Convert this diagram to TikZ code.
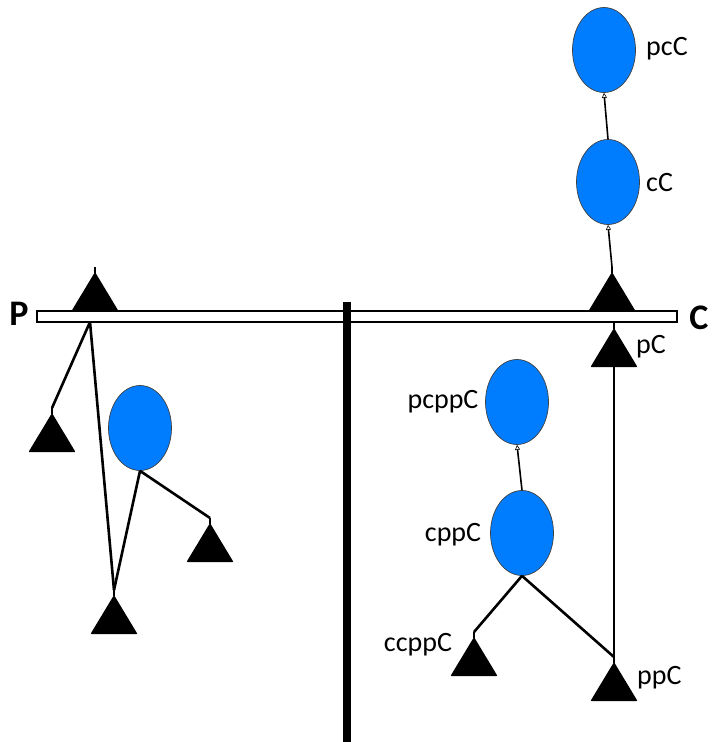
\documentclass[tikz,border=0pt]{standalone}
\usepackage{fontspec}
\setmainfont{Carlito}
\usetikzlibrary{shapes.geometric,arrows.meta}
\definecolor{bub}{RGB}{0,125,255}
\tikzset{
  x=1pt,y=-1pt,
  bubble/.style={ellipse,draw=black!75,line width=0.7pt,fill=bub,minimum width=63pt,minimum height=85pt,inner sep=0pt},
  lab/.style={font=\fontsize{28}{30}\selectfont,inner sep=0pt},
  big/.style={font=\fontsize{36}{38}\selectfont\bfseries,inner sep=0pt},
  conn/.style={line width=2.6pt},
  arr/.style={line width=1.6pt,-{Triangle[open,length=5pt,width=5pt,line width=0.6pt]}},
  tri/.pic={
    \fill[rounded corners=0.8pt] (0,0) -- (-23.5,39) -- (23.5,39) -- cycle;
    \draw[line width=2.4pt] (0,1) -- (0,-5);
    \coordinate (-top) at (0,-5);
    \coordinate (-base) at (0,39);
  }
}
\begin{document}
\begin{tikzpicture}
\useasboundingbox (0,0) rectangle (712,742);
% bar
\node[draw,line width=2pt,fill=white,minimum width=640pt,minimum height=11pt,inner sep=0pt] (bar) at (357,316.5) {};
\node[big] (P) at (19,314) {P};
\node[big] (C) at (699,318) {C};
% left side
\pic (tL) at (95,272) {tri};
\pic (l1) at (52,413) {tri};
\pic (l2) at (210,523) {tri};
\pic (l3) at (114,595) {tri};
\node[bubble] (lb) at (140,428) {};
\coordinate (lj) at (90,322);
\draw[conn] (lj) -- (l1-top);
\draw[conn] (lj) -- (l3-top);
\draw[conn] (lb.south) -- (l3-top);
\draw[conn] (lb.south) -- (l2-top);
% right side
\pic (tR) at (612,272) {tri};
\pic (pC) at (614,328) {tri};
\draw[line width=2.4pt] (614,322) -- (pC-top);
\node[lab,anchor=west] at (636,347) {pC};
\node[bubble] (cC) at (608,182) {};
\node[bubble] (pcC) at (604,50) {};
\node[lab,anchor=west] at (646,183) {cC};
\node[lab,anchor=west] at (646,49) {pcC};
\draw[arr] (tR-top) -- (cC.south);
\draw[arr] (cC.north) -- (pcC.south);
\pic (ppC) at (614,662) {tri};
\node[lab,anchor=west] at (637,678) {ppC};
\pic (ccppC) at (474,637) {tri};
\node[lab] at (418,645) {ccppC};
\node[bubble] (cppC) at (522,533) {};
\node[bubble] (pcppC) at (517,402) {};
\node[lab] at (453,535) {cppC};
\node[lab] at (443,402) {pcppC};
\draw[arr] (cppC.north) -- (pcppC.south);
\draw[conn] (cppC.south) -- (ccppC-top);
\draw[conn] (cppC.south) -- (ppC-top);
\draw[conn] (ppC-top) -- (pC-base);
% middle divider
\draw[line width=8pt] (347,302) -- (347,742);
\end{tikzpicture}
\end{document}
